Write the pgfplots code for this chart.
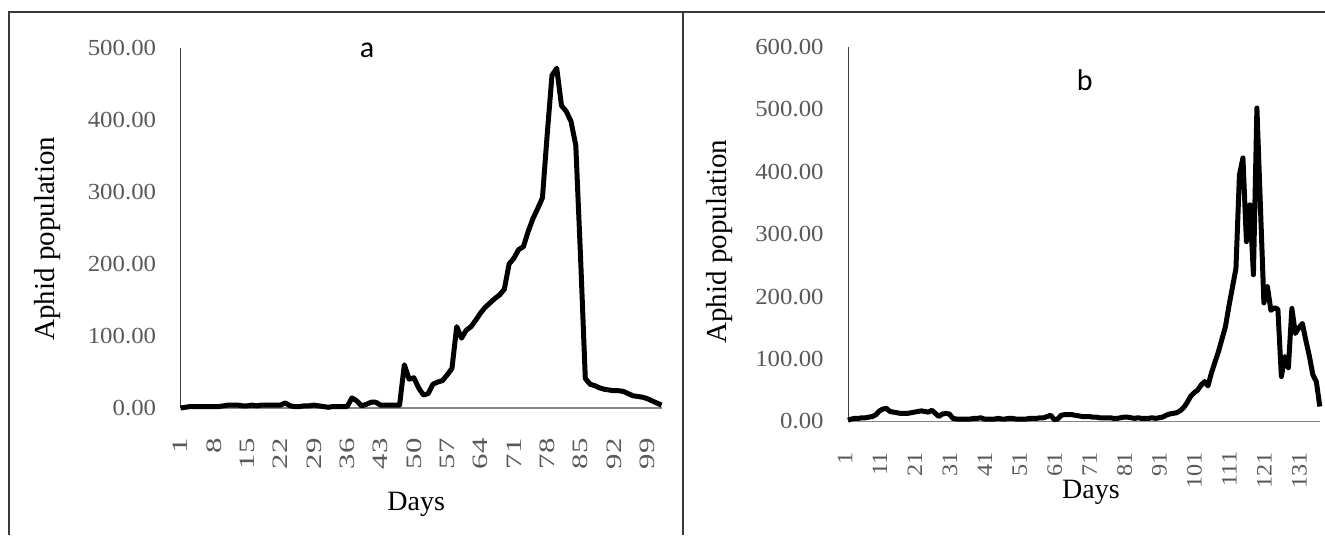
\documentclass[border=0pt]{standalone}
\usepackage{pgfplots}
\pgfplotsset{compat=1.18}
\usepackage{fontspec}
\setmainfont{Liberation Serif}
\newfontfamily\calib{Carlito}
\definecolor{ticktxt}{HTML}{595959}
\definecolor{yax}{HTML}{404040}
\definecolor{xax}{HTML}{868686}
\definecolor{frame}{HTML}{3A3A3A}
\pgfplotsset{
  panel/.style={
    scale only axis,
    axis x line*=bottom, axis y line*=left,
    x axis line style={xax, line width=0.7pt, -},
    y axis line style={yax, line width=0.5pt, -},
    major tick length=0pt,
    ymin=0,
    /pgf/number format/assume math mode=true,
    yticklabel={\scalebox{1.08}[1]{\pgfmathprintnumber[fixed,fixed zerofill,precision=2]{\tick}}},
    yticklabel style={font=\fontsize{11.5}{13}\selectfont, text=ticktxt, anchor=east, inner sep=0pt, xshift=-12pt},
    xticklabel style={font=\fontsize{11}{13}\selectfont, text=ticktxt, yshift=-15pt, rotate=90, anchor=east, inner sep=0pt},
    ylabel style={font=\fontsize{14.5}{16}\selectfont, anchor=center, rotate=0},
    xlabel style={font=\fontsize{14}{16}\selectfont, anchor=center},
    title style={font=\calib\fontsize{15}{17}\selectfont, anchor=center},
    clip=false,
  }
}
\begin{document}
\begin{tikzpicture}
\useasboundingbox (0,0) rectangle (662.5pt,267.5pt);
\fill[white] (0,0) rectangle (662.5pt,267.5pt);
\draw[frame, line width=0.6pt] (4.5pt,0) -- (4.5pt,261.5pt) -- (662.5pt,261.5pt);
\draw[frame, line width=0.6pt] (341.5pt,0) -- (341.5pt,261.5pt);
% panel a
\begin{axis}[panel,
  at={(90.25pt,63.5pt)}, anchor=south west,
  width=240.5pt, height=180pt,
  xmin=1, xmax=102, ymax=500,
  ytick={0,100,...,500},
  xtick={1,8,...,99},
  xticklabel={\scalebox{1.4}[1]{\pgfmathprintnumber{\tick}}},
  ylabel={Aphid population},
  ylabel style={at={(axis description cs:-0.2755,0.47)}},
  xlabel={Days},
  xlabel style={at={(axis description cs:0.49,-0.267)}},
  title={a},
  title style={at={(axis description cs:0.388,0.961)}},
]
\addplot[black, line width=2.5pt, line join=round] coordinates {
(1,0)(2,1)(3,2)(4,2)(5,2)(6,2)(7,2)(8,2)(9,2)(10,3)(11,4)(12,4)(13,4)(14,3)(15,3)(16,4)(17,3)(18,4)(19,4)(20,4)(21,4)(22,4)(23,7)(24,3)(25,2)(26,2)(27,3)(28,3)(29,4)(30,3)(31,2)(32,1)(33,2)(34,2)(35,2)(36,2)(37,14)(38,10)(39,3)(40,5)(41,8)(42,8)(43,4)(44,4)(45,4)(46,4)(47,4)(48,60)(49,40)(50,42)(51,28)(52,18)(53,20)(54,33)(55,36)(56,38)(57,46)(58,55)(59,113)(60,97)(61,108)(62,113)(63,122)(64,132)(65,140)(66,146)(67,152)(68,157)(69,165)(70,200)(71,208)(72,220)(73,224)(74,245)(75,263)(76,277)(77,292)(78,380)(79,462)(80,472)(81,420)(82,412)(83,398)(84,365)(85,210)(86,41)(87,33)(88,31)(89,28)(90,26)(91,25)(92,24)(93,24)(94,23)(95,20)(96,17)(97,16)(98,15)(99,13)(100,10)(101,7)(102,4)
};
\end{axis}
% panel b
\begin{axis}[panel,
  at={(424pt,56.75pt)}, anchor=south west,
  width=235.9pt, height=187.35pt,
  xmin=1, xmax=136, ymax=600,
  ytick={0,100,...,600},
  xtick={1,11,...,131},
  xticklabel={\scalebox{1.1}[1]{\pgfmathprintnumber{\tick}}},
  xticklabel style={yshift=1.5pt},
  ylabel={Aphid population},
  ylabel style={at={(axis description cs:-0.273,0.48)}},
  xlabel={Days},
  xlabel style={at={(axis description cs:0.515,-0.188)}},
  title={b},
  title style={at={(axis description cs:0.502,0.879)}},
]
\addplot[black, line width=2.5pt, line join=round] coordinates {
(1,2)(2,4)(3,5)(4,5)(5,6)(6,6)(7,7)(8,8)(9,11)(10,17)(11,20)(12,21)(13,16)(14,15)(15,14)(16,13)(17,13)(18,13)(19,14)(20,15)(21,16)(22,17)(23,16)(24,15)(25,18)(26,13)(27,8)(28,12)(29,13)(30,12)(31,5)(32,4)(33,4)(34,4)(35,4)(36,4)(37,5)(38,5)(39,6)(40,4)(41,4)(42,4)(43,4)(44,5)(45,4)(46,4)(47,5)(48,5)(49,4)(50,4)(51,4)(52,4)(53,5)(54,5)(55,5)(56,6)(57,6)(58,8)(59,10)(60,3)(61,4)(62,10)(63,11)(64,11)(65,11)(66,10)(67,9)(68,8)(69,8)(70,8)(71,7)(72,7)(73,6)(74,6)(75,6)(76,6)(77,5)(78,5)(79,6)(80,7)(81,7)(82,6)(83,5)(84,6)(85,5)(86,5)(87,5)(88,6)(89,5)(90,6)(91,7)(92,10)(93,12)(94,13)(95,14)(96,17)(97,22)(98,30)(99,40)(100,46)(101,50)(102,58)(103,64)(104,57)(105,78)(106,95)(107,112)(108,132)(109,152)(110,185)(111,215)(112,245)(113,395)(114,422)(115,288)(116,347)(117,235)(118,502)(119,345)(120,190)(121,216)(122,178)(123,182)(124,180)(125,72)(126,104)(127,86)(128,181)(129,141)(130,150)(131,157)(132,130)(133,105)(134,75)(135,64)(136,24)
};
\end{axis}
\end{tikzpicture}
\end{document}
